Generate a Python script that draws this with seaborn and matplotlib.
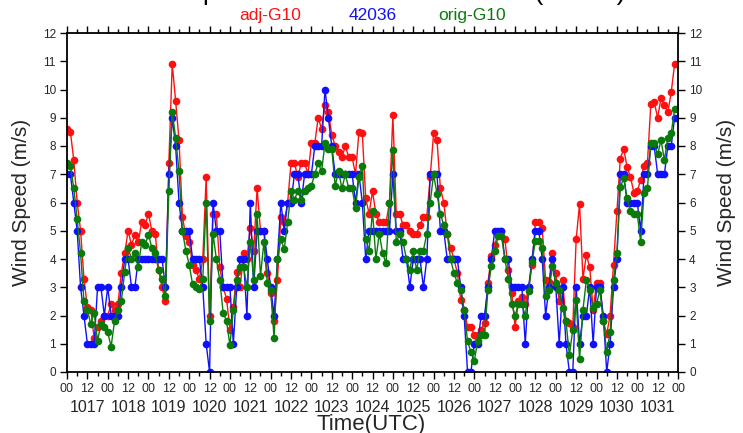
import numpy as np
import pandas as pd
import matplotlib
matplotlib.use("Agg")
import matplotlib.pyplot as plt
import matplotlib.transforms as mtransforms
import seaborn as sns

# ---------------- data (2-hourly, starting 1017 00UTC) ----------------
series_names = ["adj-G10", "42036", "orig-G10"]
series_colors = ["#ff1010", "#1010ff", "#0a7a0a"]

adj_g10 = [
    8.6, 8.5, 7.5, 6.0, 5.0, 3.3, 2.3, 2.2, 1.2, 1.6, 1.8, 2.0,
    2.0, 2.4, 2.2, 2.4, 3.5, 4.2, 5.0, 4.5, 4.85, 4.6, 5.3, 5.2,
    5.6, 5.0, 4.9, 3.6, 3.0, 2.5, 7.4, 10.9, 9.6, 8.2, 5.5, 4.8,
    4.6, 3.8, 3.6, 3.3, 4.0, 6.9, 2.0, 5.6, 5.6, 3.7, 3.0, 2.6,
    1.5, 2.3, 3.55, 3.0, 4.2, 4.0, 5.1, 4.3, 6.5, 5.0, 5.0, 3.5,
    2.8, 1.8, 3.25, 5.5, 5.3, 6.0, 7.4, 7.4, 6.9, 7.4, 7.4, 7.0,
    8.1, 8.1, 9.0, 8.6, 9.45, 9.2, 8.4, 8.0, 7.8, 7.6, 8.0, 7.6,
    7.6, 7.0, 8.5, 8.45, 6.15, 5.6, 6.4, 5.6, 5.3, 5.3, 5.3, 6.0,
    9.1, 5.6, 5.6, 5.2, 5.2, 5.0, 4.9, 4.9, 5.2, 5.5, 5.5, 6.9,
    8.45, 8.2, 6.5, 6.0, 4.9, 4.4, 4.0, 3.5, 2.55, 2.2, 1.6, 1.6,
    1.3, 1.3, 1.5, 1.75, 3.15, 4.1, 4.5, 4.9, 5.0, 4.7, 3.6, 2.8,
    1.6, 2.5, 2.65, 2.4, 3.0, 3.8, 5.3, 5.3, 5.1, 3.25, 3.2, 4.2,
    3.5, 2.5, 3.25, 1.8, 1.75, 1.6, 4.7, 5.95, 3.3, 4.15, 3.7, 2.2,
    3.15, 3.15, 1.8, 1.35, 2.0, 3.8, 5.7, 7.55, 7.9, 7.25, 6.9, 6.35,
    6.4, 6.8, 7.3, 7.4, 9.5, 9.55, 9.0, 9.7, 9.45, 9.2, 9.9, 10.9,
]

buoy_42036 = [
    7, 7, 6, 5, 3, 2, 1, 1, 1, 3, 3, 2,
    3, 2, 2, 2, 3, 4, 4, 3, 3, 4, 4, 4,
    4, 4, 4, 4, 4, 3, 7, 9, 8, 6, 5, 5,
    5, 4, 4, 4, 3, 1, 0, 6, 5, 5, 3, 3,
    3, 1, 3, 4, 4, 2, 6, 3, 5, 5, 5, 4,
    3, 2, 4, 6, 5, 6, 6, 7, 7, 6, 7, 7,
    7, 8, 8, 8, 10, 9, 8, 7, 7, 7, 7, 7,
    7, 6, 7, 6, 4, 5, 5, 5, 5, 5, 5, 5,
    7, 5, 5, 4, 4, 3, 4, 4, 4, 3, 4, 7,
    7, 7, 5, 5, 4, 4, 4, 4, 3, 2, 0, 0,
    1, 1, 2, 2, 3, 4, 5, 5, 5, 4, 4, 3,
    3, 3, 3, 1, 3, 4, 5, 5, 4, 2, 3, 4,
    3, 1, 3, 1, 0, 0, 3, 1, 2, 2, 3, 1,
    3, 3, 2, 0, 1, 3, 4, 7, 7, 6, 6, 6,
    6, 5, 7, 7, 8, 8, 7, 7, 7, 8, 8, 9,
]

orig_g10 = [
    7.4, 7.3, 6.5, 5.4, 4.2, 2.5, 2.2, 1.7, 2.1, 1.1, 1.7, 1.6,
    1.4, 0.9, 1.8, 2.2, 2.5, 3.55, 4.4, 4.0, 4.2, 3.7, 4.6, 4.5,
    4.85, 4.4, 4.2, 3.6, 3.3, 2.7, 6.4, 9.2, 8.3, 7.1, 5.0, 4.3,
    3.8, 3.1, 3.0, 2.95, 3.3, 6.0, 1.8, 4.9, 4.0, 3.25, 2.1, 1.8,
    0.95, 2.2, 3.25, 3.7, 3.7, 3.0, 4.6, 3.25, 5.6, 3.4, 4.6, 3.15,
    2.9, 1.2, 4.0, 4.7, 4.35, 5.3, 6.4, 6.1, 6.4, 6.1, 6.4, 6.5,
    6.6, 7.0, 7.4, 7.1, 8.1, 7.9, 7.9, 6.6, 7.1, 6.5, 7.0, 6.5,
    6.5, 5.8, 6.9, 7.3, 4.7, 4.3, 5.7, 4.0, 4.9, 4.2, 3.85, 6.0,
    7.85, 4.6, 4.9, 4.6, 4.0, 3.6, 4.3, 3.6, 4.3, 4.3, 4.9, 6.0,
    7.0, 6.3, 5.6, 5.2, 4.9, 4.0, 3.5, 3.15, 2.9, 2.2, 1.1, 0.7,
    0.4, 1.1, 1.3, 1.3, 2.9, 3.75, 4.3, 4.8, 4.8, 4.0, 3.3, 2.4,
    2.0, 2.4, 2.4, 2.0, 2.85, 3.9, 4.65, 4.65, 4.4, 2.7, 2.9, 3.75,
    3.15, 2.9, 2.25, 1.8, 0.6, 1.5, 2.55, 0.45, 2.2, 3.25, 2.9, 2.25,
    2.4, 2.9, 1.8, 0.7, 1.4, 3.25, 4.2, 6.55, 6.85, 6.15, 5.7, 5.6,
    5.6, 4.6, 6.35, 6.5, 8.1, 8.1, 7.7, 8.2, 7.5, 8.3, 8.45, 9.3,
]

hours = np.arange(0, 2 * len(adj_g10), 2)   # hours since 1017 00UTC
hour_tick_labels = ["00", "12"] * 15 + ["00"]
day_labels = ["1017", "1018", "1019", "1020", "1021", "1022", "1023", "1024",
              "1025", "1026", "1027", "1028", "1029", "1030", "1031"]
y_ticks = list(range(0, 13))

title_text = "Wind Speed Time Series at Station (42036)"

# ---------------- plotting ----------------
sns.set_theme(style="ticks")
plt.rcParams["font.family"] = ["Liberation Sans", "DejaVu Sans"]

W, H = 743, 433
fig = plt.figure(figsize=(W / 100, H / 100), dpi=100)
fig.patch.set_facecolor("white")
ax = fig.add_axes([67 / W, (H - 372) / H, (678 - 67) / W, (372 - 33) / H])
ax.set_facecolor("white")

df = pd.DataFrame({"hour": hours, "adj-G10": adj_g10,
                   "42036": buoy_42036, "orig-G10": orig_g10})
for name, color in zip(series_names, series_colors):
    sns.lineplot(data=df, x="hour", y=name, ax=ax, color=color,
                 marker="o", markersize=5.5, markeredgewidth=0,
                 linewidth=1.0, legend=False)

ax.set_xlim(0, 360)
ax.set_ylim(0, 12)
ax.set_xticks(np.arange(0, 361, 12))
ax.set_xticklabels(hour_tick_labels)
ax.set_xticks(np.arange(0, 361, 6), minor=True)
ax.set_yticks(y_ticks)
ax.set_yticklabels([str(v) for v in y_ticks])
ax.set_xlabel("")
ax.set_ylabel("")

ax.tick_params(axis="both", which="both", direction="out", top=True,
               right=True, labelright=True, color="black", width=1.0)
ax.tick_params(which="major", length=5)
ax.tick_params(which="minor", length=3)
ax.tick_params(axis="x", labelsize=9, pad=3)
ax.tick_params(axis="y", labelsize=8.5, pad=3)
for sp in ax.spines.values():
    sp.set_visible(True)
    sp.set_color("black")
    sp.set_linewidth(1.3)

trans = mtransforms.blended_transform_factory(ax.transData, ax.transAxes)
for i, lab in enumerate(day_labels):
    ax.text(12 + 24 * i, (372 - 407) / 339, lab, transform=trans,
            ha="center", va="center", fontsize=11.5)

fig.text(0.5, 1 - 414 / H, "Time(UTC)", ha="center", va="top", fontsize=16)
fig.text(22 / W, 1 - 202 / H, "Wind Speed (m/s)", rotation=90,
         ha="center", va="center", fontsize=15)
fig.text(727 / W, 1 - 202 / H, "Wind Speed (m/s)", rotation=90,
         ha="center", va="center", fontsize=15)

legend_x = [270, 373, 472]
for name, color, xp in zip(series_names, series_colors, legend_x):
    fig.text(xp / W, 1 - 20 / H, name, color=color, ha="center",
             va="baseline", fontsize=12.5)

fig.text(0.5, 1 + 0.5 / H, title_text, ha="center", va="baseline",
         fontsize=19, color="black")

fig.savefig("out.png", dpi=100, facecolor="white")
